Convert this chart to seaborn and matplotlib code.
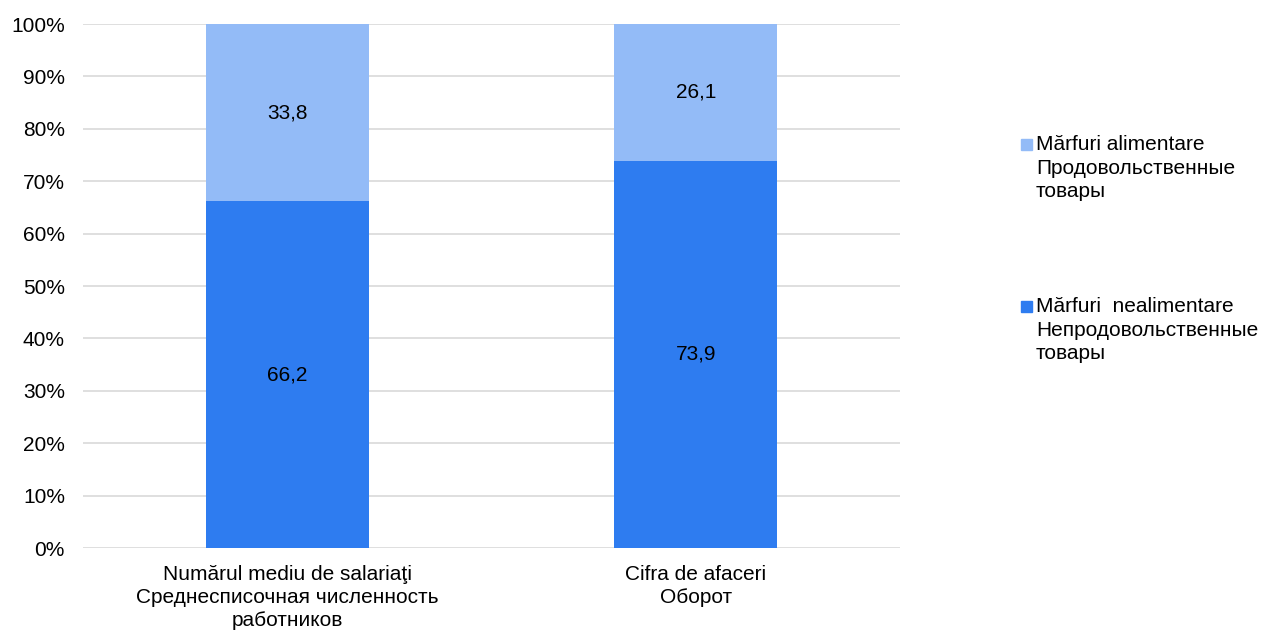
import matplotlib
matplotlib.use("Agg")
import matplotlib.pyplot as plt
import seaborn as sns
import pandas as pd
from matplotlib.patches import Rectangle

# data
categories = ["Numărul mediu de salariaţi\nСреднесписочная численность\nработников",
              "Cifra de afaceri\nОборот"]
nonfood = [66.2, 73.9]
food = [33.8, 26.1]
series_names = ["Mărfuri alimentare\nПродовольственные\nтовары",
                "Mărfuri  nealimentare\nНепродовольственные\nтовары"]

light = "#93BBF7"
dark = "#2E7CF0"
fs = 15

sns.set_theme(style="white")
plt.rcParams['font.family'] = ['Liberation Sans', 'DejaVu Sans']

df = pd.DataFrame({"cat": categories, "nonfood": nonfood, "food": food})
df["total"] = df["nonfood"] + df["food"]

fig = plt.figure(figsize=(12.62, 6.32), dpi=100)
ax = fig.add_axes([83 / 1262, 1 - 548 / 632, 817 / 1262, 524 / 632])

sns.barplot(data=df, x="cat", y="total", color=light, width=0.4, saturation=1, linewidth=0, ax=ax, zorder=3)
sns.barplot(data=df, x="cat", y="nonfood", color=dark, width=0.4, saturation=1, linewidth=0, ax=ax, zorder=3)

# value labels
for i, (a, b) in enumerate(zip(nonfood, food)):
    ax.text(i, a / 2, f"{a:.1f}".replace(".", ","), ha="center", va="center", fontsize=fs, color="black", zorder=4)
    ax.text(i, a + b / 2, f"{b:.1f}".replace(".", ","), ha="center", va="center", fontsize=fs, color="black", zorder=4)

ax.set_ylim(0, 100)
ax.set_xlim(-0.5, 1.5)
ax.set_yticks(range(0, 101, 10))
ax.set_yticklabels([f"{v}%" for v in range(0, 101, 10)], fontsize=fs, color="black")
ax.set_xticks([0, 1])
ax.set_xticklabels(categories, fontsize=fs, color="black", linespacing=1.28)
ax.set_xlabel("")
ax.set_ylabel("")
ax.grid(axis="y", color="#D9D9D9", linewidth=1.2, zorder=0)
ax.tick_params(axis="y", length=0, pad=13)
ax.tick_params(axis="x", length=0, pad=12)
for s in ax.spines.values():
    s.set_visible(False)

# legend drawn by hand so the squares sit on the first line
legend_colors = [light, dark]
legend_tops = [145, 307]
for name, col, top in zip(series_names, legend_colors, legend_tops):
    fig.patches.append(Rectangle((1021 / 1262, 1 - (top + 5) / 632), 11 / 1262, 11 / 632,
                                 transform=fig.transFigure, color=col, figure=fig))
    fig.text(1036 / 1262, 1 - (top - 10) / 632, name, ha="left", va="top", fontsize=fs,
             color="black", linespacing=1.3)

fig.savefig("out.png", dpi=100)
